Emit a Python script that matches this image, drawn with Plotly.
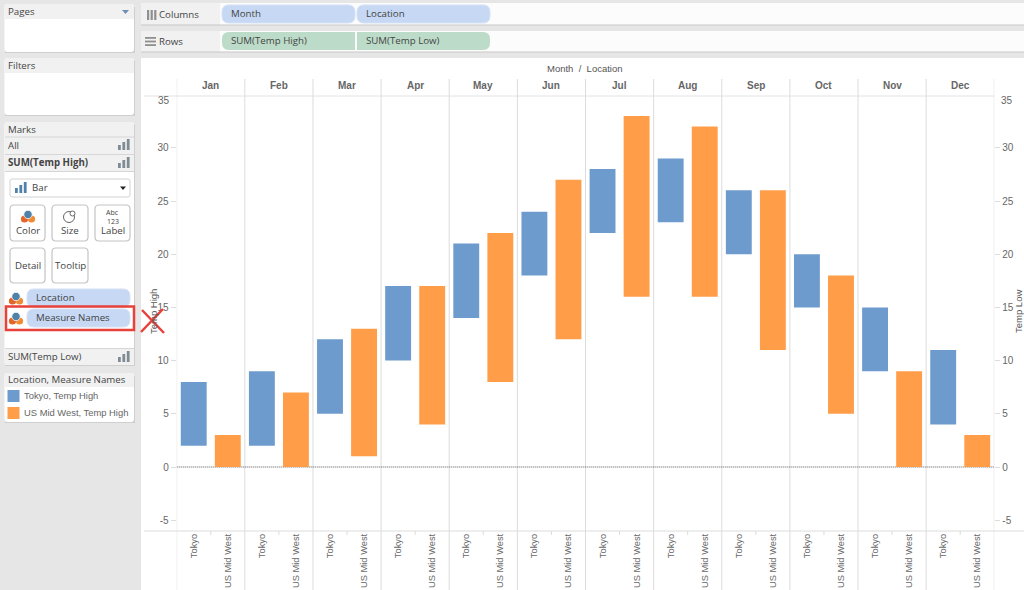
import plotly.graph_objects as go

months = ["Jan", "Feb", "Mar", "Apr", "May", "Jun", "Jul", "Aug", "Sep", "Oct", "Nov", "Dec"]
locations = ["Tokyo", "US Mid West"]
tokyo_high = [8, 9, 12, 17, 21, 24, 28, 29, 26, 20, 15, 11]
tokyo_low = [2, 2, 5, 10, 14, 18, 22, 23, 20, 15, 9, 4]
us_high = [3, 7, 13, 17, 22, 27, 33, 32, 26, 18, 9, 3]
us_low = [0, 0, 1, 4, 8, 12, 16, 16, 11, 5, 0, 0]
y_ticks = [-5, 0, 5, 10, 15, 20, 25, 30]

W, H = 1024, 590
PX0, PX1, PY0, PY1 = 176.7, 994.3, 96.0, 531.0
Y_ZERO, PX_PER_UNIT = 467.0, 10.64
BLUE, ORANGE = "#6e9bcd", "#ff9d48"
UI = "Open Sans"
AX = "Liberation Sans"
GRID = "#dcdcdc"
RED = "#e8403a"

fx = lambda p: p / W
fy = lambda p: 1 - p / H

shapes, notes = [], []


def rect(x0, y0, x1, y1, fill, line=None, lw=1, layer="below"):
    shapes.append(dict(type="rect", xref="paper", yref="paper", x0=fx(x0), x1=fx(x1), y0=fy(y1), y1=fy(y0),
                       fillcolor=fill, line=dict(color=line or fill, width=lw if line else 0), layer=layer))


def rrect(x0, y0, x1, y1, r, fill, line=None, lw=1, left=True, right=True):
    rl = r if left else 0
    rr = r if right else 0
    P = lambda x, y: f"{fx(x):.5f},{fy(y):.5f}"
    path = (f"M{P(x0 + rl, y0)} L{P(x1 - rr, y0)} Q{P(x1, y0)} {P(x1, y0 + rr)} L{P(x1, y1 - rr)} Q{P(x1, y1)} {P(x1 - rr, y1)} "
            f"L{P(x0 + rl, y1)} Q{P(x0, y1)} {P(x0, y1 - rl)} L{P(x0, y0 + rl)} Q{P(x0, y0)} {P(x0 + rl, y0)} Z")
    shapes.append(dict(type="path", xref="paper", yref="paper", path=path, fillcolor=fill,
                       line=dict(color=line or fill, width=lw if line else 0), layer="below"))


def circle(cx, cy, r, fill, line=None, lw=1):
    shapes.append(dict(type="circle", xref="paper", yref="paper", x0=fx(cx - r), x1=fx(cx + r), y0=fy(cy + r), y1=fy(cy - r),
                       fillcolor=fill, line=dict(color=line or fill, width=lw if line else 0), layer="below"))


def seg(x0, y0, x1, y1, color, lw=1, layer="below"):
    shapes.append(dict(type="line", xref="paper", yref="paper", x0=fx(x0), x1=fx(x1), y0=fy(y0), y1=fy(y1),
                       line=dict(color=color, width=lw), layer=layer))


def text(x, y, s, size=9.7, color="#444444", anchor="left", font=UI, bold=False, angle=0):
    notes.append(dict(xref="paper", yref="paper", x=fx(x), y=fy(y), text=f"<b>{s}</b>" if bold else s, showarrow=False,
                      xanchor=anchor, yanchor="middle", borderpad=0, borderwidth=0, textangle=angle,
                      font=dict(family=font, size=size, color=color)))


def panel_title(x0, y0, x1, y1, s):
    rrect(x0, y0, x1, y1 + 8, 3, "#f1f1f1")
    rect(x0, y1, x1, y1 + 8, "#ffffff")
    text(x0 + 3, (y0 + y1) / 2 - 0.5, s)


def bar_icon(x, y, c="#7f8c96"):
    for i, h in enumerate((5, 8, 11)):
        rect(x + i * 4.4, y - h, x + i * 4.4 + 2.8, y, c)


def color_icon(x, y):
    circle(x - 3.5, y + 3, 3.6, "#e2662a")
    circle(x + 3.5, y + 3, 3.6, "#f08a33")
    circle(x, y - 1.5, 4.2, "#4f81a9", "#ffffff", 0.8)


# workspace chrome
rect(141, 58, 1024, 590, "#ffffff")
for y0, y1 in ((3, 25), (31, 52)):
    rect(141, y0, 220, y1, "#f1f1f1")
    rect(220, y0, 1024, y1, "#fcfcfc")
    seg(141, y1, 1024, y1, "#c8c8c8", 1.2)

for i in range(3):
    rect(147 + i * 3.6, 10, 149.2 + i * 3.6, 20, "#8f8f8f")
for i in range(3):
    rect(145, 37 + i * 3.6, 156, 38.8 + i * 3.6, "#8f8f8f")
text(159, 14.5, "Columns")
text(159, 41.5, "Rows")

rrect(222, 5, 355, 23, 7, "#c6d8f3", "#d5e2f6")
rrect(357, 5, 490, 23, 7, "#c6d8f3", "#d5e2f6")
rrect(222, 32, 355, 50, 7, "#bcdcc9", right=False)
rrect(357, 32, 490, 50, 7, "#bcdcc9", left=False)
text(231, 13.5, "Month")
text(366, 13.5, "Location")
text(231, 40.5, "SUM(Temp High)")
text(366, 40.5, "SUM(Temp Low)")

# side panels
for y0, y1 in ((4, 52), (58, 115), (122, 365), (373, 422)):
    rect(5, y0 + 3, 135, y1 + 1, "#cfcfcf")
    rrect(4.5, y0, 134, y1, 3, "#ffffff")
panel_title(5, 4, 134, 19, "Pages")
shapes.append(dict(type="path", xref="paper", yref="paper", fillcolor="#6e8fb5", line=dict(width=0), layer="below",
                   path=f"M{fx(122)},{fy(10)} L{fx(129)},{fy(10)} L{fx(125.5)},{fy(14)} Z"))
panel_title(5, 58, 134, 73, "Filters")
panel_title(5, 122, 134, 137, "Marks")

rect(5, 137, 134, 154, "#f1f1f1")
seg(5, 137, 134, 137, "#d6d6d6")
seg(5, 154.5, 134, 154.5, "#d6d6d6")
text(8, 145, "All")
bar_icon(118, 150)
rect(5, 155, 134, 171, "#f1f1f1")
seg(5, 171.5, 134, 171.5, "#d6d6d6")
text(8, 162.5, "SUM(Temp High)", bold=True)
bar_icon(118, 168)
rect(5, 349, 134, 365, "#f1f1f1")
seg(5, 348.5, 134, 348.5, "#d6d6d6")
text(8, 356.5, "SUM(Temp Low)")
bar_icon(118, 362)

rrect(10, 179, 130, 197, 2, "#ffffff", "#d2d2d2")
bar_icon(15, 193, "#4f81a9")
text(32, 187, "Bar")
shapes.append(dict(type="path", xref="paper", yref="paper", fillcolor="#222222", line=dict(width=0), layer="below",
                   path=f"M{fx(120)},{fy(186.5)} L{fx(126)},{fy(186.5)} L{fx(123)},{fy(190)} Z"))

for x0, x1, y0, y1, s in ((10, 45, 205, 241, "Color"), (52, 88, 205, 241, "Size"), (95, 130, 205, 241, "Label"),
                          (10, 45, 248, 283, "Detail"), (52, 88, 248, 283, "Tooltip")):
    rrect(x0, y0, x1, y1, 4, "#ffffff", "#c4c4c4", 1.2)
    text((x0 + x1) / 2, 231 if y0 == 205 else 265, s, anchor="center")
color_icon(28, 216)
circle(69, 217, 5.5, "#ffffff", "#666666", 1)
circle(72.5, 213.5, 2.5, "#ffffff", "#666666", 1)
text(112.5, 212, "Abc", size=7, anchor="center")
text(112.5, 221, "123", size=7, anchor="center")

color_icon(16, 298)
color_icon(16, 318)
rrect(27, 289, 130, 307, 7, "#c6d8f3", "#d5e2f6")
rrect(27, 309, 130, 327, 7, "#c6d8f3", "#d5e2f6")
text(36, 297.5, "Location")
text(36, 317.5, "Measure Names")
rect(6, 306.5, 134, 330, "rgba(0,0,0,0)", RED, 2.5)

panel_title(5, 373, 134, 387, "Location, Measure Names")
rect(7.5, 390, 19.5, 402, BLUE)
rect(7.5, 407, 19.5, 419, ORANGE)
text(24, 395.5, "Tokyo, Temp High", size=9.4, color="#666666", font=AX)
text(24, 412.5, "US Mid West, Temp High", size=9.4, color="#666666", font=AX)

# chart frame
seg(144, PY0, PX1, PY0, "#e2e2e2")
seg(144, PY1, 1024, PY1, GRID)
x_positions = list(range(len(months) * len(locations)))
for m in range(len(months) + 1):
    shapes.append(dict(type="line", xref="x", yref="paper", x0=2 * m - 0.5, x1=2 * m - 0.5, y0=0, y1=fy(79),
                       line=dict(color=GRID, width=1), layer="below"))
for m in range(len(months)):
    shapes.append(dict(type="line", xref="x", yref="paper", x0=2 * m + 0.5, x1=2 * m + 0.5, y0=fy(535), y1=fy(PY1),
                       line=dict(color=GRID, width=1), layer="below"))
    notes.append(dict(xref="x", yref="paper", x=2 * m + 0.5, y=fy(85.5), text=f"<b>{months[m]}</b>", showarrow=False,
                      xanchor="center", yanchor="middle", font=dict(family=AX, size=10, color="#666666")))
shapes.append(dict(type="line", xref="x", yref="y", x0=-0.5, x1=len(x_positions) - 0.5, y0=0, y1=0,
                   line=dict(color="#555555", width=1, dash="1px,1px"), layer="below"))

text(585, 68.5, "Month  /  Location", size=9.5, color="#555555", anchor="center", font=AX)
text(153, 312, "Temp High", size=9.5, color="#555555", anchor="center", font=AX, angle=-90)
text(1018, 312, "Temp Low", size=9.5, color="#555555", anchor="center", font=AX, angle=-90)
text(170, 101, "35", size=10, color="#666666", anchor="right", font=AX)
text(1001, 101, "35", size=10, color="#666666", font=AX)

# red cross drawn over the axis title
seg(141, 332, 163, 309, RED, 2.5, "above")
seg(142, 310, 164, 333, RED, 2.5, "above")

x_tokyo = x_positions[0::2]
x_us = x_positions[1::2]
x_labels = [loc for _ in months for loc in locations]

fig = go.Figure()
fig.add_bar(x=x_tokyo, y=[h - l for h, l in zip(tokyo_high, tokyo_low)], base=tokyo_low, width=0.76,
            marker=dict(color=BLUE, line=dict(width=0)), name="Tokyo, Temp High")
fig.add_bar(x=x_us, y=[h - l for h, l in zip(us_high, us_low)], base=us_low, width=0.76,
            marker=dict(color=ORANGE, line=dict(width=0)), name="US Mid West, Temp High")
fig.add_scatter(x=x_tokyo, y=tokyo_low, yaxis="y2", mode="markers", marker=dict(opacity=0), hoverinfo="skip",
                showlegend=False, name="Temp Low")

y_range = [(Y_ZERO - PY1) / PX_PER_UNIT, (Y_ZERO - PY0) / PX_PER_UNIT]
tick_style = dict(tickmode="array", tickvals=y_ticks, ticktext=[str(v) for v in y_ticks], ticks="outside", ticklen=5,
                  tickcolor=GRID, tickwidth=1, showgrid=False, zeroline=False, showline=False, range=y_range,
                  automargin=False, tickfont=dict(family=AX, size=10, color="#666666"))
fig.update_layout(
    width=W, height=H, margin=dict(l=0, r=0, t=0, b=0, autoexpand=False), autosize=False, showlegend=False,
    paper_bgcolor="#e6e6e6", plot_bgcolor="rgba(0,0,0,0)", barmode="overlay",
    xaxis=dict(domain=[fx(PX0), fx(PX1)], range=[-0.5, len(x_positions) - 0.5], tickmode="array", tickvals=x_positions,
               ticktext=x_labels, tickangle=-90, ticks="", showgrid=False, zeroline=False, showline=False, automargin=False,
               tickfont=dict(family=AX, size=9.3, color="#666666"), anchor="y"),
    yaxis=dict(domain=[fy(PY1), fy(PY0)], side="left", anchor="x", **tick_style),
    yaxis2=dict(overlaying="y", side="right", anchor="x", **tick_style),
    shapes=shapes, annotations=notes,
)
fig.write_html("out.html", config=dict(displayModeBar=False),
               post_script="document.body.style.margin='0';document.body.style.background='#e6e6e6';")
